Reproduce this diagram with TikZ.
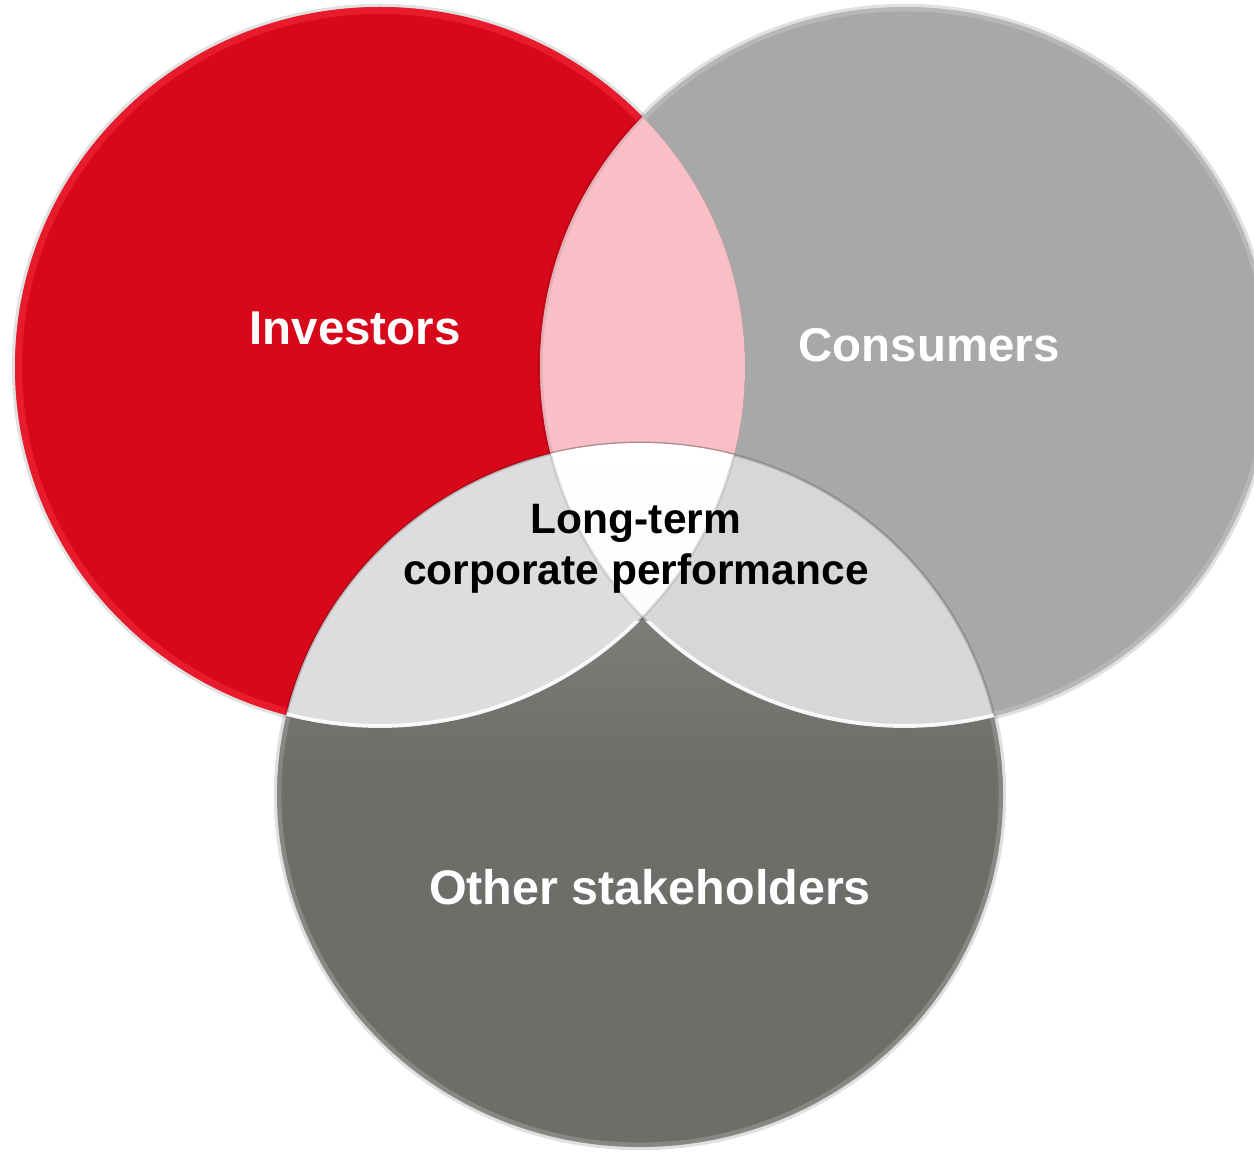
\documentclass[tikz,border=0pt]{standalone}
\usepackage{fontspec}
\setmainfont{Liberation Sans}
\definecolor{invred}{HTML}{D70819}
\definecolor{invrim}{HTML}{F2283A}
\definecolor{pinklens}{HTML}{F8C0C6}
\definecolor{congray}{HTML}{A8A8A8}
\definecolor{othgray}{HTML}{6D6E6A}
\definecolor{lensL}{HTML}{DDDDDF}
\definecolor{lensR}{HTML}{D7D7D8}
\definecolor{coreW}{HTML}{FBFBFB}
\tikzset{
  lbl/.style={font=\fontsize{27}{32}\selectfont\bfseries, text=white, inner sep=0pt},
  corelbl/.style={font=\fontsize{24.2}{29}\selectfont\bfseries, text=black, align=center, inner sep=0pt},
  rimline/.style={line width=5, white, opacity=0.18},
  shadowline/.style={line width=2.5, black, opacity=0.12},
  seamline/.style={line width=1.6, black, opacity=0.16},
  glint/.style={line width=2.2, white, opacity=0.9}
}
\begin{document}
\begin{tikzpicture}[x=0.02cm,y=0.02cm]
\useasboundingbox (0,0) rectangle (1254,-1155);
% centres of the three sets
\coordinate (cR) at (380,-367);
\coordinate (cG) at (905,-367);
\coordinate (cB) at (640,-795);
% soft outer shadows
\draw[shadowline] (cR) ellipse [x radius=366, y radius=361];
\draw[shadowline] (cG) ellipse [x radius=366, y radius=361];
\draw[shadowline] (cB) ellipse [x radius=364, y radius=353];
% base discs
\fill[invred] (cR) ellipse [x radius=365, y radius=360];
\fill[congray] (cG) ellipse [x radius=365, y radius=360];
\fill[othgray] (cB) ellipse [x radius=363, y radius=352];
% bright rims of the discs
\begin{scope}
  \clip (cR) ellipse [x radius=365, y radius=360];
  \draw[line width=8, invrim, opacity=0.6] (cR) ellipse [x radius=365, y radius=360];
\end{scope}
\begin{scope}
  \clip (cG) ellipse [x radius=365, y radius=360];
  \draw[rimline] (cG) ellipse [x radius=365, y radius=360];
\end{scope}
\begin{scope}
  \clip (cB) ellipse [x radius=363, y radius=352];
  \draw[rimline] (cB) ellipse [x radius=363, y radius=352];
  \shade[top color=white, bottom color=othgray, opacity=0.12] (277,-600) rectangle (1003,-780);
\end{scope}
% investors and consumers overlap
\begin{scope}
  \clip (cR) ellipse [x radius=365, y radius=360];
  \fill[pinklens] (cG) ellipse [x radius=365, y radius=360];
  \draw[line width=3, black, opacity=0.08] (cG) ellipse [x radius=365, y radius=360];
\end{scope}
% investors and other stakeholders overlap
\begin{scope}
  \clip (cR) ellipse [x radius=365, y radius=360];
  \fill[lensL] (cB) ellipse [x radius=363, y radius=352];
  \draw[seamline] (cB) ellipse [x radius=363, y radius=352];
\end{scope}
% consumers and other stakeholders overlap
\begin{scope}
  \clip (cG) ellipse [x radius=365, y radius=360];
  \fill[lensR] (cB) ellipse [x radius=363, y radius=352];
  \draw[seamline] (cB) ellipse [x radius=363, y radius=352];
\end{scope}
% common core of all three
\begin{scope}
  \clip (cR) ellipse [x radius=365, y radius=360];
  \clip (cG) ellipse [x radius=365, y radius=360];
  \shade[top color=white, bottom color=coreW!92!gray] (cB) ellipse [x radius=363, y radius=352];
\end{scope}
% seams inside the light overlaps
\begin{scope}
  \clip (cB) ellipse [x radius=363, y radius=352];
  \draw[seamline, opacity=0.10] (cR) ellipse [x radius=365, y radius=360];
  \draw[seamline, opacity=0.10] (cG) ellipse [x radius=365, y radius=360];
\end{scope}
% glints where the overlaps meet the lower disc
\begin{scope}
  \clip (cB) ellipse [x radius=363, y radius=352];
  \clip (200,-621) rectangle (643,-760);
  \draw[glint] (cR) ellipse [x radius=364, y radius=359];
\end{scope}
\begin{scope}
  \clip (cB) ellipse [x radius=363, y radius=352];
  \clip (643,-621) rectangle (1100,-760);
  \draw[glint] (cG) ellipse [x radius=364, y radius=359];
\end{scope}
% labels
\node[lbl] (investors) at (355,-328) {Investors};
\node[lbl] (consumers) at (929,-345) {Consumers};
\node[lbl, font=\fontsize{27.6}{33}\selectfont\bfseries] (others) at (650,-887) {Other stakeholders};
\node[corelbl] (core) at (636,-549) {Long-term\\corporate performance};
\end{tikzpicture}
\end{document}
